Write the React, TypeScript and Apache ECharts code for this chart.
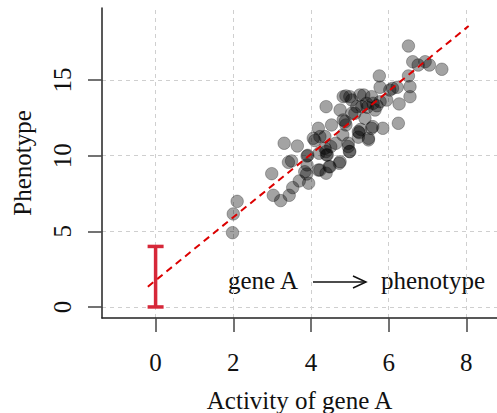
import React, { useEffect, useRef } from "react";
import * as echarts from "echarts";

const xTicks = [0, 2, 4, 6, 8];
const yTicks = [0, 5, 10, 15];

const activity = [
  1.98, 2.0, 2.1, 2.99, 3.03, 3.22, 3.44, 3.53, 3.7, 3.94,
  3.89, 3.9, 3.9, 3.31, 3.65, 3.42, 3.5, 4.06, 4.19, 4.39,
  4.47, 4.73, 4.21, 4.39, 4.42, 4.51, 4.64, 4.19, 4.36, 4.53,
  4.39, 4.75, 4.9, 4.82, 4.96, 4.99, 4.83, 4.9, 5.05, 5.24,
  5.28, 5.22, 5.48, 5.39, 5.13, 5.31, 5.36, 5.56, 5.6, 5.65,
  5.78, 5.59, 5.85, 5.76, 5.78, 5.95, 6.03, 6.1, 6.27, 6.25,
  6.22, 6.55, 6.55, 6.51, 6.51, 6.62, 6.76, 6.94, 7.05, 7.37,
  5.43, 5.18, 5.0, 4.36, 4.4, 4.75, 4.49, 4.23, 3.84, 4.96,
  5.0, 5.22, 5.48, 5.56, 4.83, 5.05, 5.26, 4.88, 4.23, 3.92,
  5.45, 5.7, 4.1
];
const phenotype = [
  4.91, 6.15, 6.98, 8.81, 7.38, 7.03, 7.38, 7.89, 8.33, 8.18,
  8.79, 9.39, 9.98, 10.82, 10.64, 9.56, 9.65, 11.15, 9.05, 8.84,
  9.27, 9.5, 10.16, 10.27, 10.05, 10.6, 10.82, 11.81, 11.26, 12.03,
  13.24, 13.02, 12.03, 11.37, 10.6, 10.27, 12.36, 13.95, 13.68, 11.52,
  11.74, 11.22, 11.15, 12.47, 12.8, 13.24, 14.01, 13.9, 13.46, 13.02,
  13.57, 11.92, 11.81, 15.27, 14.52, 13.68, 14.34, 14.45, 13.42, 12.14,
  14.52, 14.56, 13.9, 15.27, 17.25, 16.21, 15.99, 16.21, 15.99, 15.71,
  13.46, 13.24, 13.9, 10.49, 10.05, 9.6, 9.27, 9.05, 8.94, 10.82,
  10.27, 11.59, 11.04, 11.81, 13.9, 12.8, 14.01, 12.25, 11.26, 10.02,
  13.2, 13.3, 11.0
];

const fitX = [-0.2, 8.06];
const fitY = [1.34, 18.57];

const errX = [0, 0];
const errY = [0, 4];

const FONT = "Liberation Serif";

export default function App() {
  const ref = useRef<HTMLDivElement>(null);
  useEffect(() => {
    if (!ref.current) return;
    const chart = echarts.init(ref.current, null, { renderer: "svg" });
    const red = "rgb(214,40,57)";
    const txt = { fontFamily: FONT, fontSize: 25, color: "#111" };
    chart.setOption({
      animation: false,
      backgroundColor: "#fff",
      textStyle: { fontFamily: FONT },
      grid: { left: 102, top: 8, right: 0, bottom: 95, containLabel: false, outerBoundsMode: "none" },
      xAxis: {
        type: "value",
        min: -1.38,
        max: 8.79,
        name: "Activity of gene A",
        nameLocation: "middle",
        nameGap: 70,
        nameTextStyle: txt,
        axisLine: { show: true, onZero: false, lineStyle: { color: "#222", width: 1.5 } },
        axisTick: { show: true, length: 14, customValues: xTicks, lineStyle: { color: "#444", width: 1.5 } },
        axisLabel: { customValues: xTicks, margin: 32, ...txt },
        splitLine: { show: false },
      },
      yAxis: {
        type: "value",
        min: -0.73,
        max: 19.76,
        name: "Phenotype",
        nameLocation: "middle",
        nameGap: 67,
        nameRotate: 90,
        nameTextStyle: txt,
        axisLine: { show: true, onZero: false, lineStyle: { color: "#222", width: 1.5 } },
        axisTick: { show: true, length: 14, customValues: yTicks, lineStyle: { color: "#444", width: 1.5 } },
        axisLabel: { customValues: yTicks, rotate: 90, margin: 27, ...txt },
        splitLine: { show: false },
      },
      graphic: [
        { type: "text", left: 228, top: 268, style: { text: "gene A", font: `25px 'Liberation Serif'`, fill: "#111" } },
        { type: "text", left: 381, top: 268, style: { text: "phenotype", font: `25px 'Liberation Serif'`, fill: "#111" } },
        { type: "line", shape: { x1: 313, y1: 282, x2: 366, y2: 282 }, style: { stroke: "#111", lineWidth: 1.5 } },
        { type: "polyline", shape: { points: [[353, 276], [366, 282], [353, 288]] }, style: { stroke: "#111", lineWidth: 1.5, fill: null } },
      ],
      series: [
        {
          type: "line",
          data: [],
          silent: true,
          z: 0,
          markLine: {
            silent: true,
            z: 0,
            zlevel: 0,
            symbol: "none",
            label: { show: false },
            lineStyle: { type: [4, 4], color: "#cfcfcf", width: 1 },
            data: [
              ...xTicks.map((v) => ({ xAxis: v })),
              ...yTicks.map((v) => ({ yAxis: v })),
            ],
          },
        },
        {
          type: "scatter",
          data: activity.map((x, i) => [x, phenotype[i]]),
          symbolSize: 12.5,
          z: 2,
          itemStyle: { color: "rgba(0,0,0,0.45)", borderColor: "rgba(0,0,0,0.35)", borderWidth: 1 },
        },
        {
          type: "line",
          data: fitX.map((x, i) => [x, fitY[i]]),
          symbol: "none",
          z: 3,
          lineStyle: { color: "rgb(220,0,0)", width: 2, type: [7, 5] },
        },
        {
          type: "line",
          z: 4,
          data: errX.map((x, i) => [x, errY[i]]),
          showSymbol: true,
          symbol: "rect",
          symbolSize: [16, 3.5],
          itemStyle: { color: red, borderWidth: 0 },
          lineStyle: { color: red, width: 3.5 },
        },
      ],
    });
    return () => chart.dispose();
  }, []);
  return <div ref={ref} style={{ position: "absolute", left: 0, top: 0, width: 497, height: 413 }} />;
}
